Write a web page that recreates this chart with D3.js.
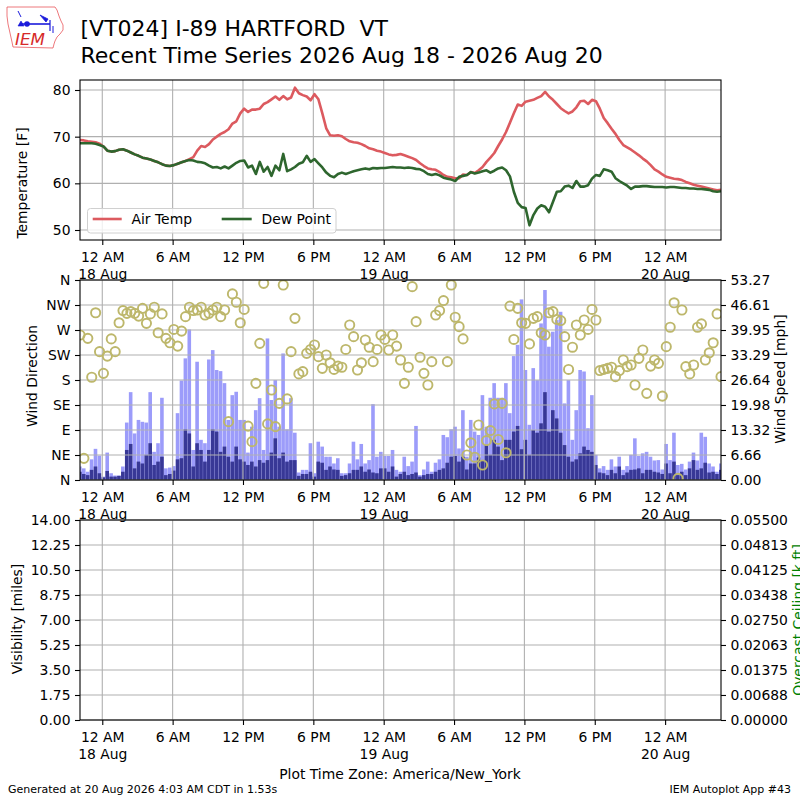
<!DOCTYPE html>
<html><head><meta charset="utf-8">
<script src="https://cdn.jsdelivr.net/npm/d3@7"></script>
<style>body{margin:0;background:#fff} svg text{font-family:"DejaVu Sans",sans-serif}</style>
</head><body><svg id="c" width="800" height="800"></svg>
<script>
// ---------------- DATA ----------------
const obsStart = "2026-08-17T22:06:00Z";   // local (America/New_York) wall-clock time
const obsStepMinutes = 20;
const airTemp = [
69.3,69.2,69.0,68.9,68.8,68.5,67.9,67.0,66.8,66.9,
67.2,67.3,67.0,66.6,66.2,65.9,65.5,65.3,65.1,64.8,
64.5,64.1,63.8,63.7,63.9,64.2,64.5,64.8,65.2,65.6,
67.0,68.0,67.8,68.4,69.4,70.0,70.6,71.0,71.6,72.8,
73.3,75.0,76.0,75.3,75.8,75.8,76.0,77.0,77.4,78.0,
78.6,77.9,78.7,78.0,78.4,80.5,79.3,78.9,78.6,77.8,
79.1,78.0,75.0,71.8,70.3,70.2,70.3,70.1,69.5,69.0,
68.8,68.7,68.4,68.0,67.5,67.3,67.0,66.8,66.5,66.2,
66.0,66.1,66.3,66.0,65.7,65.4,65.0,64.3,63.7,63.2,
63.0,62.9,62.4,61.8,61.4,61.3,61.1,61.1,61.9,61.8,
62.4,62.2,62.8,63.5,64.6,65.5,66.5,68.0,69.4,71.0,
73.0,75.0,76.9,76.6,77.5,77.7,77.9,78.3,78.7,79.6,
78.6,77.9,77.0,76.1,75.5,75.0,75.4,76.3,77.6,77.7,
77.0,77.9,77.6,76.0,74.0,72.9,71.7,70.6,69.3,68.2,
67.7,67.2,66.6,66.0,65.3,64.7,63.9,63.0,62.5,61.9,
61.4,61.2,61.0,60.9,60.7,60.3,60.0,59.7,59.5,59.3,
59.1,58.9,58.7,58.5,58.6];
const dewPoint = [
68.6,68.6,68.6,68.6,68.5,68.2,67.9,67.0,66.8,66.9,
67.2,67.3,67.0,66.6,66.2,65.9,65.5,65.3,65.1,64.8,
64.5,64.1,63.8,63.7,63.9,64.2,64.5,64.8,65.0,64.9,
64.6,64.5,64.3,63.8,63.4,63.5,63.2,63.6,63.2,63.8,
64.4,64.8,64.9,63.4,63.8,62.0,64.6,62.5,63.5,61.6,
63.8,62.8,66.3,62.6,63.0,63.5,64.2,64.5,65.9,64.6,
65.2,64.3,63.4,62.3,61.6,61.3,62.0,62.3,62.0,62.3,
62.6,62.8,63.0,63.2,63.0,63.3,63.2,63.3,63.3,63.4,
63.5,63.4,63.4,63.3,63.4,63.3,63.1,63.0,62.6,62.0,
61.8,62.0,61.7,61.2,61.0,60.8,60.5,61.4,61.6,61.8,
62.4,62.1,62.3,62.6,62.8,62.3,62.7,63.2,63.4,62.8,
61.5,58.2,55.8,54.9,54.7,51.0,53.2,54.6,55.3,55.0,
53.8,56.0,58.2,58.3,59.3,59.5,59.0,60.5,59.3,59.3,
59.6,61.0,61.8,61.6,63.0,62.8,62.5,61.1,60.5,60.0,
59.5,58.8,59.3,59.3,59.4,59.4,59.3,59.2,59.2,59.2,
59.1,59.2,59.2,59.1,59.0,59.0,58.9,58.9,58.8,58.8,
58.7,58.6,58.3,58.2,58.3];
const windGust = [
3.6,3.1,2.2,5.5,8.3,6.5,0.9,7.3,1.8,1.2,
1.2,3.6,15.3,23.4,12.4,16.0,15.5,15.3,23.4,7.5,
9.8,21.9,3.1,3.3,3.7,17.8,26.5,32.4,40.1,8.0,
31.5,10.7,9.8,32.1,34.6,29.3,29.0,25.8,16.0,22.6,
23.5,16.0,16.0,7.3,14.2,18.6,21.8,8.0,37.7,21.3,
26.6,14.2,33.7,13.5,21.8,12.6,2.0,2.7,2.7,9.8,
1.8,10.2,8.9,6.2,6.2,4.4,5.8,1.8,1.8,4.4,
10.2,5.5,9.6,4.4,5.3,20.2,6.2,7.5,6.4,6.4,
8.0,2.7,2.2,6.2,3.7,4.9,14.4,1.3,2.8,4.9,
2.2,4.6,5.5,12.0,11.4,13.5,14.2,8.4,18.6,6.2,
16.0,12.9,12.0,22.6,14.2,21.9,25.8,21.9,21.9,25.8,
17.8,33.0,36.0,48.1,29.3,14.7,29.8,26.6,41.7,50.6,
35.5,39.5,42.6,44.8,20.4,26.6,10.7,18.6,29.3,28.9,
13.8,22.6,6.7,3.1,3.7,2.7,5.5,3.6,6.2,2.7,
3.7,6.7,11.1,6.4,7.1,7.5,6.2,5.2,5.3,2.8,
9.6,5.3,12.6,4.0,4.3,2.8,4.9,7.3,5.2,12.6,
11.5,4.4,3.6,2.2,4.4];
const windSpeed = [
2.2,1.6,1.3,2.7,3.6,1.8,0.7,2.4,0.9,0.9,
1.1,2.2,8.0,9.6,3.1,4.9,4.4,6.7,9.8,4.0,
4.9,6.2,1.3,1.6,2.5,5.5,5.8,13.5,12.4,3.6,
9.8,8.0,4.9,8.0,13.5,12.9,7.5,8.9,6.2,4.9,
8.9,5.5,4.9,4.0,4.9,3.6,5.3,4.6,5.3,7.3,
11.1,5.8,7.3,4.9,5.3,5.3,1.1,1.6,1.6,2.2,
0.9,4.9,4.6,2.7,3.6,2.8,2.7,1.1,1.3,1.8,
2.7,2.7,3.6,2.2,2.8,2.0,1.8,3.1,3.1,2.2,
3.6,0.9,1.6,2.2,1.3,1.6,2.0,0.9,1.3,1.6,
1.6,2.2,2.7,3.1,4.6,6.2,6.4,4.9,6.2,2.8,
4.4,4.4,6.0,5.2,9.3,6.7,10.7,8.9,5.3,10.7,
10.7,12.9,14.4,8.2,10.7,6.7,13.3,12.6,15.1,23.4,
12.9,18.6,16.4,12.6,9.3,6.2,4.9,5.5,7.1,8.9,
8.0,7.5,4.0,2.0,1.8,1.3,2.7,1.8,3.6,1.3,
2.0,2.7,2.8,3.1,1.8,2.7,2.7,2.2,2.0,1.6,
4.4,1.8,4.9,1.3,2.2,1.3,3.1,5.3,2.7,3.1,
4.6,2.0,2.2,1.6,2.7];
const windDir = [
261,39,255,185,301,231,192,223,254,231,
283,305,300,303,300,295,309,282,299,311,
265,299,255,247,271,241,268,294,311,305,
306,311,297,300,306,311,294,306,105,335,
320,283,307,97,69,174,246,354,101,162,
96,138,351,146,231,291,191,195,228,235,
243,222,201,225,211,199,205,203,235,279,
258,198,211,252,239,213,235,261,253,234,
261,241,216,174,203,348,285,221,192,171,
213,297,305,323,213,351,293,276,254,45,
67,41,99,27,71,89,137,73,138,49,
313,253,309,283,282,245,291,294,265,261,
301,303,289,287,258,199,239,279,261,288,
271,307,288,197,199,201,203,186,197,216,
204,207,171,219,234,156,205,216,210,151,
240,275,319,3,306,204,191,207,275,281,
216,229,247,299,186];
const tempTicks = [50, 60, 70, 80];
const dirTickLabels = ["N","NE","E","SE","S","SW","W","NW","N"];
const speedTickLabels = ["0.00","6.66","13.32","19.98","26.64","33.29","39.95","46.61","53.27"];
const visTickLabels = ["0.00","1.75","3.50","5.25","7.00","8.75","10.50","12.25","14.00"];
const ceilTickLabels = ["0.00000","0.00688","0.01375","0.02063","0.02750","0.03438","0.04125","0.04813","0.05500"];
const titleLines = ["[VT024] I-89 HARTFORD  VT", "Recent Time Series 2026 Aug 18 - 2026 Aug 20"];

// ---------------- CHART ----------------
const svg = d3.select("#c");
const FS = 13.9;
const L = 80, R = 721;
const P = {top:[80,240], mid:[280,480], bot:[520,720]};
const gridColor = "#b0b0b0";

const times = airTemp.map((_, i) => d3.utcMinute.offset(new Date(obsStart), i * obsStepMinutes));
const x = d3.scaleUtc().domain([times[0], times[times.length-1]]).range([L, R]);
const xTicks = x.ticks(d3.utcHour.every(6));
function xLabel(d){
  const h = d.getUTCHours();
  const hh = (h % 12 === 0) ? 12 : h % 12;
  return [hh + " " + (h < 12 ? "AM" : "PM"), h === 0 ? d3.utcFormat("%-d %b")(d) : null];
}

const yT = d3.scaleLinear().domain([47.857, 82.143]).range([P.top[1], P.top[0]]);
const yDir = d3.scaleLinear().domain([0, 360]).range([P.mid[1], P.mid[0]]);
const ySp = d3.scaleLinear().domain([0, 53.27]).range([P.mid[1], P.mid[0]]);
const yVis = d3.scaleLinear().domain([0, 14]).range([P.bot[1], P.bot[0]]);
const yCeil = d3.scaleLinear().domain([0, 0.055]).range([P.bot[1], P.bot[0]]);

const defs = svg.append("defs");
Object.entries(P).forEach(([k,[a,b]]) => {
  defs.append("clipPath").attr("id","clip-"+k).append("rect")
    .attr("x",L).attr("y",a).attr("width",R-L).attr("height",b-a);
});

function grid(y0, y1, yScale, yVals){
  const g = svg.append("g").attr("stroke", gridColor).attr("stroke-width", 1.1);
  g.selectAll(".v").data(xTicks).join("line")
    .attr("x1", d=>x(d)).attr("x2", d=>x(d)).attr("y1", y0).attr("y2", y1);
  g.selectAll(".h").data(yVals).join("line")
    .attr("x1", L).attr("x2", R).attr("y1", d=>yScale(d)).attr("y2", d=>yScale(d));
}
function frame(y0, y1){
  svg.append("rect").attr("x",L).attr("y",y0).attr("width",R-L).attr("height",y1-y0)
    .attr("fill","none").attr("stroke","#000").attr("stroke-width",1.1);
}
function styleAxis(g){
  g.attr("font-size", FS).attr("font-family", "DejaVu Sans");
  g.select(".domain").remove();
  g.selectAll(".tick line").attr("stroke","#000").attr("stroke-width",1.1);
  g.selectAll(".tick text").attr("fill","#000");
}
function xAxis(yb){
  const g = svg.append("g").attr("transform",`translate(0,${yb})`)
    .call(d3.axisBottom(x).tickValues(xTicks).tickSize(5).tickFormat(() => ""));
  styleAxis(g);
  g.selectAll(".tick").each(function(d){
    const t = d3.select(this).select("text").attr("y", null).attr("dy", null);
    const [a, b] = xLabel(d);
    t.append("tspan").attr("x", 0).attr("y", 22).text(a);
    if (b) t.append("tspan").attr("x", 0).attr("y", 38.5).text(b);
  });
}
function yAxisLeft(scale, vals, labels){
  const g = svg.append("g").attr("transform",`translate(${L},0)`)
    .call(d3.axisLeft(scale).tickValues(vals).tickSize(5).tickPadding(4.5)
      .tickFormat((d,i) => labels ? labels[i] : d));
  styleAxis(g);
}
function yAxisRight(scale, vals, labels){
  const g = svg.append("g").attr("transform",`translate(${R},0)`)
    .call(d3.axisRight(scale).tickValues(vals).tickSize(5).tickPadding(4.5)
      .tickFormat((d,i) => labels[i]));
  styleAxis(g);
}
function vLabel(txt, xb, yc, color){
  svg.append("text").attr("transform",`translate(${xb},${yc}) rotate(-90)`)
    .attr("text-anchor","middle").attr("font-size",FS).attr("fill",color||"#000").text(txt);
}

// ---- Title ----
svg.append("text").attr("x",80.5).attr("y",36).attr("font-size",22)
  .attr("xml:space","preserve").style("white-space","pre").text(titleLines[0]);
svg.append("text").attr("x",80.5).attr("y",63.3).attr("font-size",22).text(titleLines[1]);

// ---- Logo ----
const logo = svg.append("g");
logo.append("path")
  .attr("d","M7,7 L55,7 L57,10 L59,16 L61,21 L63,25 L63,30 L60,34 L57,37 L55,41 L54,44 L53,48 L13,47 L12,42 L10,33 L8,24 L7,16 Z")
  .attr("fill","none").attr("stroke","#e8555a").attr("stroke-width",0.8);
logo.append("text").attr("x",15).attr("y",45).attr("font-family","DejaVu Serif")
  .attr("font-style","italic").attr("font-size",16).attr("fill","#d62a2a")
  .attr("textLength",30).attr("lengthAdjust","spacingAndGlyphs").text("IEM");
const lb = logo.append("g").attr("stroke","#1a1adb").attr("stroke-width",1.6).attr("fill","#1a1adb");
lb.append("line").attr("x1",22).attr("y1",24).attr("x2",50).attr("y2",24);
lb.append("circle").attr("cx",27).attr("cy",24).attr("r",2);
lb.append("line").attr("x1",18).attr("y1",11).attr("x2",21).attr("y2",17).attr("stroke-width",1);
lb.append("path").attr("d","M18,26 L21,21 L24,26 Z").attr("stroke-width",0.6);
lb.append("path").attr("d","M40,15 L48,19 L46,22 Z").attr("stroke-width",0.8);
lb.append("line").attr("x1",50).attr("y1",20).attr("x2",50).attr("y2",31).attr("stroke-width",1.2);
lb.append("line").attr("x1",53).attr("y1",26).attr("x2",53).attr("y2",33).attr("stroke-width",1);

// ---- Top panel: temperature ----
grid(P.top[0], P.top[1], yT, tempTicks);
const tg = svg.append("g").attr("clip-path","url(#clip-top)");
const line = s => d3.line().x((d,i)=>x(times[i])).y(d=>yT(d))(s);
tg.append("path").attr("d", line(airTemp)).attr("fill","none").attr("stroke","#dc5a5f")
  .attr("stroke-width",2.6).attr("stroke-linejoin","round");
tg.append("path").attr("d", line(dewPoint)).attr("fill","none").attr("stroke","#2e662e")
  .attr("stroke-width",2.6).attr("stroke-linejoin","round");
// legend
const lg = svg.append("g");
lg.append("rect").attr("x",87.5).attr("y",208.5).attr("width",248.5).attr("height",24.5).attr("rx",3)
  .attr("fill","#fff").attr("fill-opacity",0.8).attr("stroke","#d0d0d0").attr("stroke-width",1);
lg.append("line").attr("x1",92.7).attr("x2",121.7).attr("y1",219).attr("y2",219)
  .attr("stroke","#dc5a5f").attr("stroke-width",2.6);
lg.append("text").attr("x",131.5).attr("y",224).attr("font-size",FS).text("Air Temp");
lg.append("line").attr("x1",221.7).attr("x2",251.7).attr("y1",219).attr("y2",219)
  .attr("stroke","#2e662e").attr("stroke-width",2.6);
lg.append("text").attr("x",261.5).attr("y",224).attr("font-size",FS).text("Dew Point");
frame(P.top[0], P.top[1]);
yAxisLeft(yT, tempTicks);
xAxis(P.top[1]);
vLabel("Temperature [F]", 27, 183);

// ---- Middle panel: wind ----
const bw = x(times[1]) - x(times[0]);
const mg = svg.append("g").attr("clip-path","url(#clip-mid)");
mg.selectAll(".gust").data(windGust).join("rect")
  .attr("x",(d,i)=>x(times[i]) - bw/2).attr("width",bw*0.92)
  .attr("y",d=>ySp(d)).attr("height",d=>ySp(0)-ySp(d)).attr("fill","#9c9cfa");
mg.selectAll(".sped").data(windSpeed).join("rect")
  .attr("x",(d,i)=>x(times[i]) - bw/2).attr("width",bw*0.92)
  .attr("y",d=>ySp(d)).attr("height",d=>ySp(0)-ySp(d)).attr("fill","#383896");
const dirVals = dirTickLabels.map((_,i)=>i*45);
grid(P.mid[0], P.mid[1], yDir, dirVals);
const cg = svg.append("g").attr("clip-path","url(#clip-mid)");
cg.selectAll("circle").data(windDir).join("circle")
  .attr("cx",(d,i)=>x(times[i])).attr("cy",d=>yDir(d)).attr("r",4.6)
  .attr("fill","none").attr("stroke","#bdb76b").attr("stroke-width",1.9);
frame(P.mid[0], P.mid[1]);
yAxisLeft(yDir, dirVals, dirTickLabels);
yAxisRight(ySp, speedTickLabels.map(Number), speedTickLabels);
xAxis(P.mid[1]);
vLabel("Wind Direction", 37, 376);
vLabel("Wind Speed [mph]", 785, 379);

// ---- Bottom panel: visibility / ceiling ----
grid(P.bot[0], P.bot[1], yVis, visTickLabels.map(Number));
frame(P.bot[0], P.bot[1]);
yAxisLeft(yVis, visTickLabels.map(Number), visTickLabels);
yAxisRight(yCeil, ceilTickLabels.map(Number), ceilTickLabels);
xAxis(P.bot[1]);
vLabel("Visibility [miles]", 22, 619);
vLabel("Overcast Ceiling [k ft]", 803, 620, "green");

// ---- Footer ----
svg.append("text").attr("x",400).attr("y",779).attr("text-anchor","middle").attr("font-size",FS)
  .text("Plot Time Zone: America/New_York");
svg.append("text").attr("x",8).attr("y",793).attr("font-size",11)
  .text("Generated at 20 Aug 2026 4:03 AM CDT in 1.53s");
svg.append("text").attr("x",791).attr("y",793).attr("text-anchor","end").attr("font-size",11)
  .text("IEM Autoplot App #43");
</script></body></html>
